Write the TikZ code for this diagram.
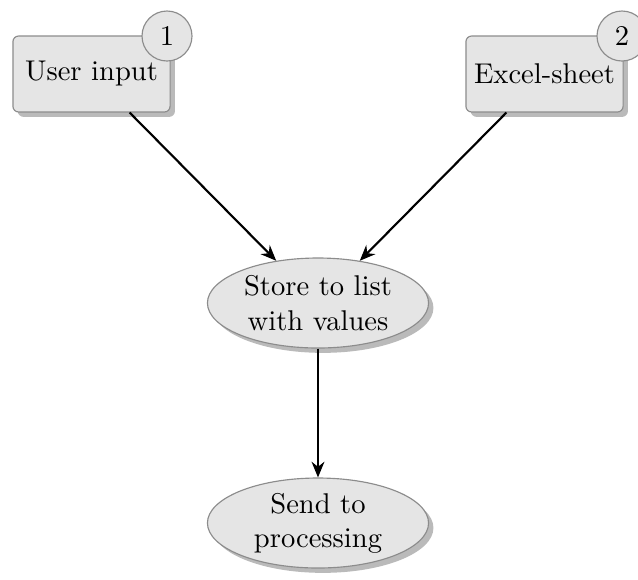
\documentclass[tikz,border=0pt]{standalone}
\usetikzlibrary{shapes.geometric,shadows,arrows.meta}
\begin{document}
\begin{tikzpicture}[x=0.35pt,y=-0.35pt,
  srcbox/.style={rectangle,rounded corners=2pt,draw=black!45,fill=black!10,
    minimum width=55pt,minimum height=26.6pt,inner sep=0pt,
    drop shadow={shadow xshift=1.7pt,shadow yshift=-1.7pt,fill=black!27,opacity=1}},
  stepoval/.style={ellipse,draw=black!45,fill=black!10,
    minimum width=77.4pt,minimum height=31.5pt,inner sep=0pt,align=center,
    drop shadow={shadow xshift=1.7pt,shadow yshift=-1.7pt,fill=black!27,opacity=1}},
  badge/.style={circle,draw=black!45,fill=black!10,minimum size=17.5pt,inner sep=0pt},
  flow/.style={-{Stealth[length=5.5pt,width=4.5pt]},line width=0.75pt}]
\useasboundingbox (0,0) rectangle (638,579);
\clip (0,0) rectangle (638,579);
\node[srcbox] (ui) at (91.5,74) {User input};
\node[badge] (b1) at (167,36) {1};
\node[srcbox] (xl) at (544.5,74) {Excel-sheet};
\node[badge] (b2) at (622,36) {2};
\node[stepoval] (store) at (318,303) {Store to list\\with values};
\node[stepoval] (send) at (318,523) {Send to\\processing};
\draw[flow] (ui) -- (store);
\draw[flow] (xl) -- (store);
\draw[flow] (store) -- (send);
\end{tikzpicture}
\end{document}
